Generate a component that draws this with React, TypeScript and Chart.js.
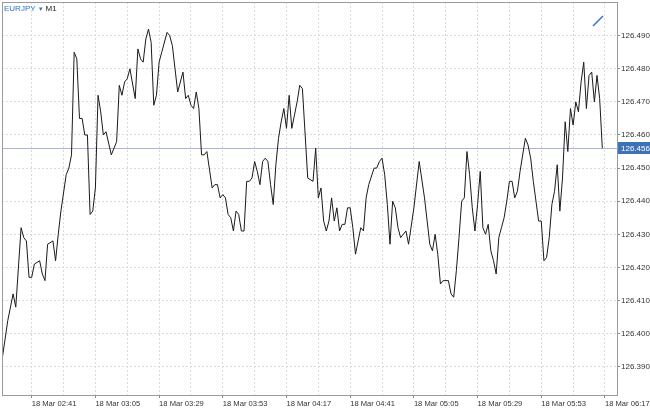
import { useEffect, useRef } from "react";
import { Chart, registerables } from "chart.js";

Chart.register(...registerables);

// Minutes after 18 Mar 02:41 (M1 bars) and close prices
const minutes = [
  -11, -9, -7, -6, -4, -3, -2, -1, 0, 1, 3, 4, 5, 6, 8, 9, 10, 11, 13, 14, 15,
  16, 17, 18, 19, 20, 21, 22, 23, 24, 25, 26, 27, 28, 30, 32, 33, 34, 35, 36, 37,
  39, 40, 41, 42, 43, 44, 45, 46, 47, 48, 49, 51, 52, 53, 55, 56, 57, 58, 59, 60,
  61, 62, 63, 64, 65, 66, 68, 69, 70, 71, 72, 73, 74, 75, 76, 77, 78, 79, 80, 81,
  82, 83, 84, 85, 86, 87, 88, 89, 90, 91, 92, 93, 94, 95, 96, 97, 98, 99, 100,
  101, 102, 104, 106, 107, 108, 109, 110, 111, 112, 113, 114, 115, 116, 117, 118,
  119, 120, 121, 122, 123, 124, 125, 126, 127, 129, 130, 131, 132, 133, 134, 135,
  136, 137, 138, 139, 140, 141, 142, 144, 146, 148, 149, 150, 151, 152, 153, 154,
  155, 157, 158, 159, 160, 161, 162, 163, 164, 165, 166, 167, 168, 169, 170, 171,
  172, 173, 174, 175, 176, 177, 178, 179, 180, 181, 182, 183, 184, 186, 187, 188,
  189, 190, 191, 192, 193, 194, 195, 196, 197, 198, 199, 200, 201, 202, 203, 204,
  205, 206, 207, 208, 209, 210, 211, 212, 213, 214, 215,
];

const prices = [
  126.393, 126.404, 126.412, 126.408, 126.432, 126.429, 126.428, 126.417, 126.417,
  126.421, 126.422, 126.418, 126.416, 126.427, 126.428, 126.422, 126.43, 126.437,
  126.448, 126.45, 126.454, 126.485, 126.483, 126.465, 126.465, 126.46, 126.46,
  126.436, 126.437, 126.444, 126.472, 126.467, 126.46, 126.461, 126.454, 126.458,
  126.475, 126.472, 126.476, 126.477, 126.48, 126.471, 126.486, 126.483, 126.482,
  126.489, 126.492, 126.488, 126.469, 126.472, 126.482, 126.485, 126.491, 126.49,
  126.487, 126.473, 126.476, 126.479, 126.471, 126.472, 126.469, 126.468, 126.473,
  126.468, 126.454, 126.454, 126.455, 126.444, 126.445, 126.445, 126.441, 126.442,
  126.441, 126.436, 126.435, 126.431, 126.437, 126.436, 126.431, 126.431, 126.446,
  126.446, 126.447, 126.452, 126.449, 126.445, 126.452, 126.453, 126.452, 126.445,
  126.439, 126.451, 126.459, 126.464, 126.468, 126.462, 126.472, 126.462, 126.466,
  126.47, 126.475, 126.474, 126.447, 126.446, 126.456, 126.441, 126.444, 126.434,
  126.431, 126.434, 126.441, 126.434, 126.438, 126.431, 126.433, 126.433, 126.438,
  126.438, 126.432, 126.424, 126.428, 126.432, 126.431, 126.441, 126.445, 126.45,
  126.45, 126.452, 126.453, 126.448, 126.439, 126.427, 126.44, 126.438, 126.432,
  126.429, 126.43, 126.431, 126.427, 126.438, 126.452, 126.441, 126.434, 126.427,
  126.425, 126.43, 126.424, 126.415, 126.416, 126.416, 126.412, 126.411, 126.419,
  126.429, 126.44, 126.441, 126.455, 126.448, 126.438, 126.431, 126.439, 126.449,
  126.432, 126.43, 126.433, 126.425, 126.422, 126.418, 126.429, 126.432, 126.435,
  126.44, 126.446, 126.446, 126.441, 126.443, 126.449, 126.459, 126.457, 126.453,
  126.446, 126.44, 126.434, 126.434, 126.422, 126.423, 126.429, 126.439, 126.443,
  126.451, 126.437, 126.447, 126.464, 126.455, 126.468, 126.463, 126.47, 126.467,
  126.476, 126.482, 126.468, 126.478, 126.479, 126.47, 126.478, 126.471, 126.456,
];

const yTicks = [
  126.39, 126.4, 126.41, 126.42, 126.43, 126.44, 126.45, 126.46, 126.47, 126.48, 126.49,
];
const gridMinutes = [0, 12, 24, 36, 48, 60, 72, 84, 96, 108, 120, 132, 144, 156, 168, 180, 192, 204, 216];
const xLabels = [
  "18 Mar 02:41", "18 Mar 03:05", "18 Mar 03:29", "18 Mar 03:53", "18 Mar 04:17",
  "18 Mar 04:41", "18 Mar 05:05", "18 Mar 05:29", "18 Mar 05:53", "18 Mar 06:17",
];
const labelStep = 24;
const symbolName = "EURJPY";
const timeframe = "M1";
const lastPrice = prices[prices.length - 1];

const FONT = "'Liberation Sans', Arial, sans-serif";

function zeroPad(s: any) {
  s.paddingTop = 0;
  s.paddingBottom = 0;
  s.paddingLeft = 0;
  s.paddingRight = 0;
}

export default function App() {
  const ref = useRef<HTMLCanvasElement | null>(null);

  useEffect(() => {
    if (!ref.current) return;
    const overlay = {
      id: "overlay",
      beforeDatasetsDraw(chart: any) {
        const { ctx, chartArea: a, scales } = chart;
        const py = Math.round(scales.y.getPixelForValue(lastPrice)) + 0.5;
        ctx.save();
        ctx.strokeStyle = "#aab6d4";
        ctx.lineWidth = 1;
        ctx.beginPath();
        ctx.moveTo(a.left, py);
        ctx.lineTo(a.right, py);
        ctx.stroke();
        ctx.restore();
      },
      afterDraw(chart: any) {
        const { ctx, chartArea: a, scales, width } = chart;
        ctx.save();
        // frame
        ctx.strokeStyle = "#9a9a9a";
        ctx.lineWidth = 1;
        ctx.strokeRect(a.left + 0.5, a.top + 0.5, a.right - a.left, a.bottom - a.top);
        // price tag
        const py = Math.round(scales.y.getPixelForValue(lastPrice));
        ctx.fillStyle = "#3d72b6";
        ctx.fillRect(a.right + 1, py - 6, width - a.right - 1, 12);
        ctx.fillStyle = "#ffffff";
        ctx.font = `8px ${FONT}`;
        ctx.textBaseline = "middle";
        ctx.textAlign = "left";
        ctx.fillText(lastPrice.toFixed(3), a.right + 4, py + 0.5);
        // header
        ctx.fillStyle = "#2a74d0";
        ctx.fillText(symbolName, a.left + 2, 9);
        const w1 = ctx.measureText(symbolName).width;
        ctx.font = `7px ${FONT}`;
        ctx.fillText("\u25BE", a.left + 2 + w1 + 3, 9);
        ctx.font = `8px ${FONT}`;
        ctx.fillStyle = "#222222";
        ctx.fillText(timeframe, a.left + 2 + w1 + 10, 9);
        // one-click icon
        ctx.strokeStyle = "#2f6fd0";
        ctx.lineWidth = 1.5;
        ctx.beginPath();
        ctx.moveTo(a.right - 24, 26);
        ctx.lineTo(a.right - 14, 16);
        ctx.stroke();
        ctx.restore();
      },
    };

    const chart = new Chart(ref.current, {
      type: "line",
      data: {
        datasets: [
          {
            data: minutes.map((m, i) => ({ x: m, y: prices[i] })),
            borderColor: "#1a1a1a",
            borderWidth: 1,
            pointRadius: 0,
            tension: 0,
            fill: false,
          },
        ],
      },
      options: {
        animation: false,
        responsive: false,
        devicePixelRatio: 1,
        layout: { padding: { left: 2, top: 2, right: 0, bottom: 0 } },
        plugins: { legend: { display: false }, tooltip: { enabled: false } },
        scales: {
          x: {
            type: "linear",
            min: -11.19,
            max: 220.53,
            afterBuildTicks: (s: any) => {
              s.ticks = gridMinutes.map((v) => ({ value: v }));
            },
            afterFit: (s: any) => {
              s.height = 16;
              zeroPad(s);
            },
            ticks: {
              autoSkip: false,
              maxRotation: 0,
              minRotation: 0,
              align: "start",
              padding: 1,
              color: "#333333",
              font: { family: FONT, size: 7.6 },
              callback: (v: any) => (v % labelStep === 0 ? xLabels[v / labelStep] : ""),
            },
            grid: {
              color: "#dadada",
              tickLength: 3,
              tickColor: (c: any) => (c.tick && c.tick.value % labelStep === 0 ? "#888888" : "rgba(0,0,0,0)"),
            },
            border: { display: false, dash: [2, 2] },
          },
          y: {
            type: "linear",
            position: "right",
            min: 126.38145,
            max: 126.50018,
            afterBuildTicks: (s: any) => {
              s.ticks = yTicks.map((v) => ({ value: v }));
            },
            afterFit: (s: any) => {
              s.width = 33;
              zeroPad(s);
            },
            ticks: {
              padding: 1,
              color: "#333333",
              font: { family: FONT, size: 8 },
              callback: (v: any) => Number(v).toFixed(3),
            },
            grid: { color: "#dadada", tickLength: 3, tickColor: "#888888" },
            border: { display: false, dash: [2, 2] },
          },
        },
      },
      plugins: [overlay],
    } as any);
    return () => chart.destroy();
  }, []);

  return (
    <div style={{ position: "absolute", left: 0, top: 0, width: 650, height: 411, background: "#fff" }}>
      <canvas ref={ref} width={650} height={411} style={{ display: "block", width: 650, height: 411 }} />
    </div>
  );
}
